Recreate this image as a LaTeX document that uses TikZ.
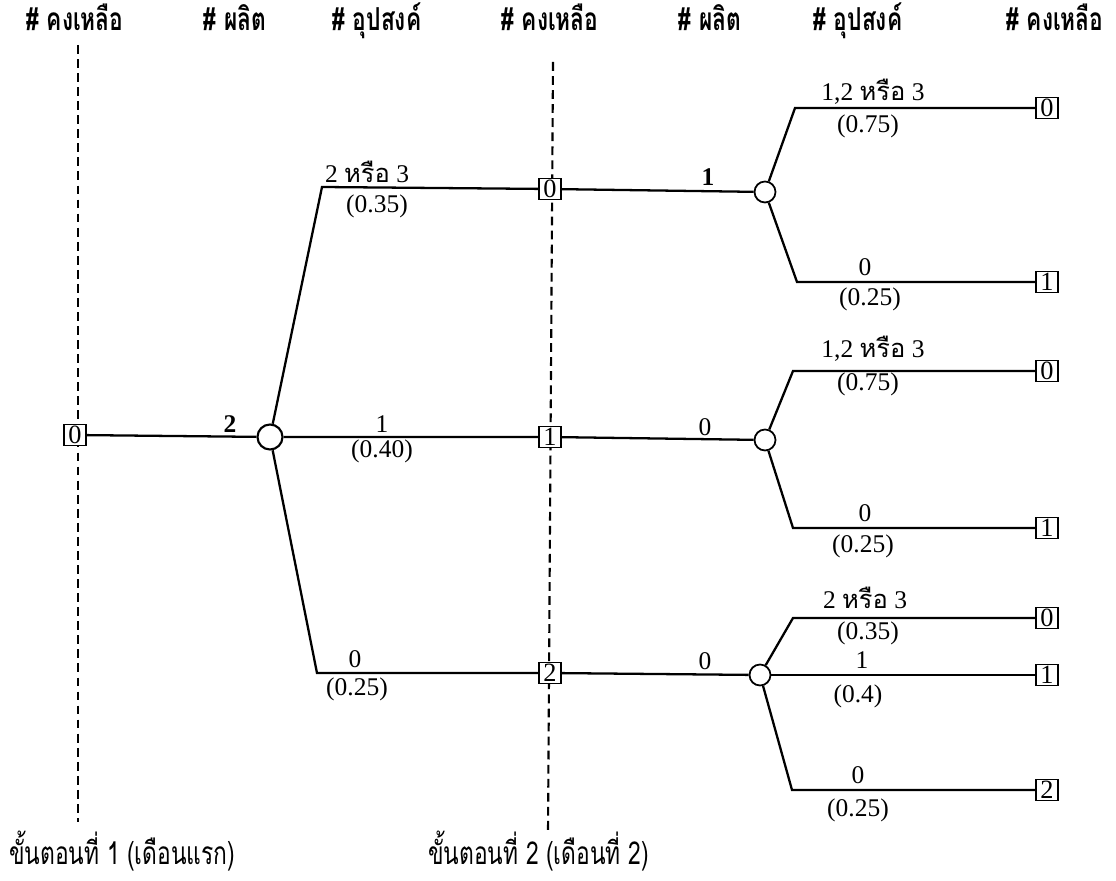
\documentclass[tikz,border=0pt]{standalone}
\usepackage{fontspec}
\setmainfont{Liberation Serif}
\newfontfamily\thai[Script=Thai]{Loma}
\newfontfamily\thaihead[Script=Thai,FakeStretch=0.72]{Loma}
\begin{document}
\begin{tikzpicture}[x=0.02cm,y=-0.02cm,
  box/.style={draw,fill=white,inner sep=0pt,minimum width=0.44cm,minimum height=0.42cm,line width=0.7pt,font=\fontsize{15}{15}\selectfont},
  chance/.style={draw,fill=white,circle,inner sep=0pt,minimum size=0.42cm,line width=1pt},
  chancebig/.style={chance,minimum size=0.5cm,line width=1.2pt},
  branch/.style={line width=1.3pt},
  stage/.style={line width=1.2pt,dash pattern=on 5pt off 3pt},
  hdr/.style={font=\thaihead\bfseries\fontsize{18}{18}\selectfont,anchor=base},
  lbl/.style={font=\fontsize{14.5}{14.5}\selectfont,inner sep=0pt},
  foot/.style={font=\thaihead\fontsize{18}{18}\selectfont,anchor=base west}]
\useasboundingbox (0,0) rectangle (1116,881);
% headers
\node[hdr] (h1) at (75,31) {\# คงเหลือ};
\node[hdr] (h2) at (235,31) {\# ผลิต};
\node[hdr] (h3) at (377,31) {\# อุปสงค์};
\node[hdr] (h4) at (550,31) {\# คงเหลือ};
\node[hdr] (h5) at (710,31) {\# ผลิต};
\node[hdr] (h6) at (858,31) {\# อุปสงค์};
\node[hdr] (h7) at (1055,31) {\# คงเหลือ};
% stage lines
\coordinate (d1t) at (78,45);
\coordinate (d1b) at (78,822);
\coordinate (d2t) at (553,62);
\coordinate (d2b) at (548,832);
\draw[stage] (d1t) -- (d1b);
\draw[stage] (d2t) -- (d2b);
% coordinates of bends
\coordinate (k1) at (322,187);
\coordinate (k3) at (317,673);
\coordinate (kA1) at (795,108);
\coordinate (kA2) at (797,282);
\coordinate (kB1) at (793,371);
\coordinate (kB2) at (793,528);
\coordinate (kC1) at (793,618);
\coordinate (kC3) at (792,790);
% nodes
\node[box] (s0) at (75,435) {0};
\node[chancebig] (c0) at (270,437) {};
\node[box] (sA) at (550,189) {0};
\node[box] (sB) at (550,437) {1};
\node[box] (sC) at (550,673) {2};
\node[chance] (cA) at (765,192) {};
\node[chance] (cB) at (765,440) {};
\node[chance] (cC) at (760,675) {};
\node[box] (tA1) at (1047,108) {0};
\node[box] (tA2) at (1047,282) {1};
\node[box] (tB1) at (1047,371) {0};
\node[box] (tB2) at (1047,528) {1};
\node[box] (tC1) at (1047,618) {0};
\node[box] (tC2) at (1047,675) {1};
\node[box] (tC3) at (1047,790) {2};
% connectors
\draw[branch] (s0) -- (c0);
\draw[branch] (c0) -- (k1) -- (sA) -- (cA);
\draw[branch] (c0) -- (sB) -- (cB);
\draw[branch] (c0) -- (k3) -- (sC) -- (cC);
\draw[branch] (cA) -- (kA1) -- (tA1);
\draw[branch] (cA) -- (kA2) -- (tA2);
\draw[branch] (cB) -- (kB1) -- (tB1);
\draw[branch] (cB) -- (kB2) -- (tB2);
\draw[branch] (cC) -- (kC1) -- (tC1);
\draw[branch] (cC) -- (tC2);
\draw[branch] (cC) -- (kC3) -- (tC3);
% labels stage 1
\node[lbl] (l0) at (230,424) {\textbf{2}};
\node[lbl] (la1) at (367,172) {2 {\thai หรือ} 3};
\node[lbl] (la2) at (377,206) {(0.35)};
\node[lbl] (lb1) at (382,424) {1};
\node[lbl] (lb2) at (382,451) {(0.40)};
\node[lbl] (lc1) at (355,659) {0};
\node[lbl] (lc2) at (357,689) {(0.25)};
% labels production stage 2
\node[lbl] (pA) at (708,177) {\textbf{1}};
\node[lbl] (pB) at (705,427) {0};
\node[lbl] (pC) at (705,661) {0};
% labels demand stage 2
\node[lbl] (qA1) at (873,92) {1,2 {\thai หรือ} 3};
\node[lbl] (qA2) at (868,126) {(0.75)};
\node[lbl] (qA3) at (865,267) {0};
\node[lbl] (qA4) at (870,299) {(0.25)};
\node[lbl] (qB1) at (873,349) {1,2 {\thai หรือ} 3};
\node[lbl] (qB2) at (868,384) {(0.75)};
\node[lbl] (qB3) at (865,513) {0};
\node[lbl] (qB4) at (863,546) {(0.25)};
\node[lbl] (qC1) at (865,598) {2 {\thai หรือ} 3};
\node[lbl] (qC2) at (868,633) {(0.35)};
\node[lbl] (qC3) at (862,660) {1};
\node[lbl] (qC4) at (858,696) {(0.4)};
\node[lbl] (qC5) at (858,775) {0};
\node[lbl] (qC6) at (858,810) {(0.25)};
% footers
\node[foot] (f1) at (3,864) {ขั้นตอนที่ 1 (เดือนแรก)};
\node[foot] (f2) at (422,864) {ขั้นตอนที่ 2 (เดือนที่ 2)};
\end{tikzpicture}
\end{document}
